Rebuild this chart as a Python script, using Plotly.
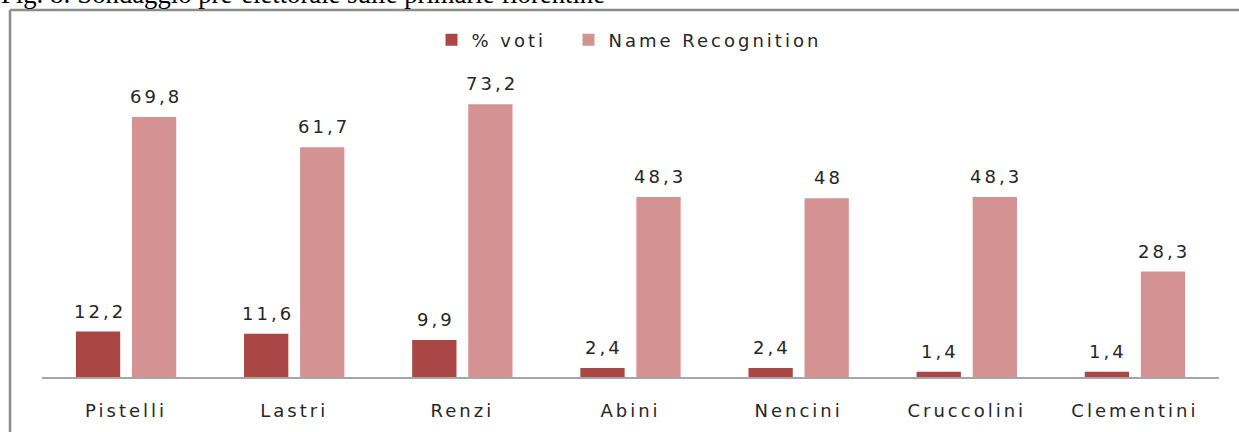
import plotly.graph_objects as go

categories = ["Pistelli", "Lastri", "Renzi", "Abini", "Nencini", "Cruccolini", "Clementini"]
voti = [12.2, 11.6, 9.9, 2.4, 2.4, 1.4, 1.4]
name_recognition = [69.8, 61.7, 73.2, 48.3, 48, 48.3, 28.3]
series_names = ["% voti", "Name Recognition"]
title_text = "Fig. 8: Sondaggio pre-elettorale sulle primarie fiorentine"

C_DARK = "#AA4643"
C_LIGHT = "#D49392"
FONT = "DejaVu Sans"
TXT = "#262626"
LS = "letter-spacing:3px"

def spaced(s, tail=""):
    return f"<span style='{LS}'>{s}{tail}</span>"

W, H = 1239, 432
ML, MR, MT, MB = 42, 20, 79, 55
BARGAP = 1 / 3
BARGROUPGAP = 0.21
YMAX = 80

def fmt(v):
    return f"{v:g}".replace(".", ",")

fig = go.Figure()
fig.add_trace(go.Bar(x=categories, y=voti, name=spaced(series_names[0], "&nbsp;&nbsp;"),
                     marker=dict(color=C_DARK, line=dict(width=0))))
fig.add_trace(go.Bar(x=categories, y=name_recognition, name=spaced(series_names[1]),
                     marker=dict(color=C_LIGHT, line=dict(width=0))))

plot_w = W - ML - MR
plot_h = H - MT - MB
cat_px = plot_w / len(categories)
offset = cat_px * (1 - BARGAP) / 4
for series, sign in ((voti, -1), (name_recognition, 1)):
    for c, v in zip(categories, series):
        fig.add_annotation(x=c, y=v, xref="x", yref="y", text=spaced(fmt(v)),
                           showarrow=False, xshift=sign * offset + 1.5, yshift=8,
                           yanchor="bottom",
                           font=dict(family=FONT, size=18, color=TXT))

def py(pix):
    return (H - MB - pix) / plot_h
def px(pix):
    return (pix - ML) / plot_w

# cut-off caption at top
fig.add_annotation(x=px(-1), y=py(-5.5), xref="paper", yref="paper",
                   text=title_text, showarrow=False, xanchor="left", yanchor="middle",
                   font=dict(family="Liberation Serif", size=26.7, color="#000000"))

# frame
fig.add_shape(type="line", xref="paper", yref="paper", x0=px(10), x1=px(1250),
              y0=py(10), y1=py(10), line=dict(color="#8C8C8C", width=2.5))
fig.add_shape(type="line", xref="paper", yref="paper", x0=px(10), x1=px(10),
              y0=py(10), y1=py(450), line=dict(color="#8C8C8C", width=2.5))

fig.update_layout(
    width=W, height=H,
    margin=dict(l=ML, r=MR, t=MT, b=MB, autoexpand=False),
    paper_bgcolor="white", plot_bgcolor="white",
    barmode="group", bargap=BARGAP, bargroupgap=BARGROUPGAP,
    showlegend=True,
    legend=dict(orientation="h", x=px(629), xanchor="center", y=py(40), yanchor="middle",
                font=dict(family=FONT, size=18, color=TXT), traceorder="normal"),
    xaxis=dict(showline=True, linecolor="#A6A6A6", linewidth=1.5, showgrid=False,
               ticks="", tickfont=dict(family=FONT, size=18, color=TXT),
               tickmode="array", tickvals=categories,
               ticktext=[spaced(c) for c in categories],
               ticklabelstandoff=17),
    yaxis=dict(range=[0, YMAX], visible=False, showgrid=False),
)

fig.write_html("out.html", config={"displayModeBar": False},
               post_script="document.body.style.margin='0';")
